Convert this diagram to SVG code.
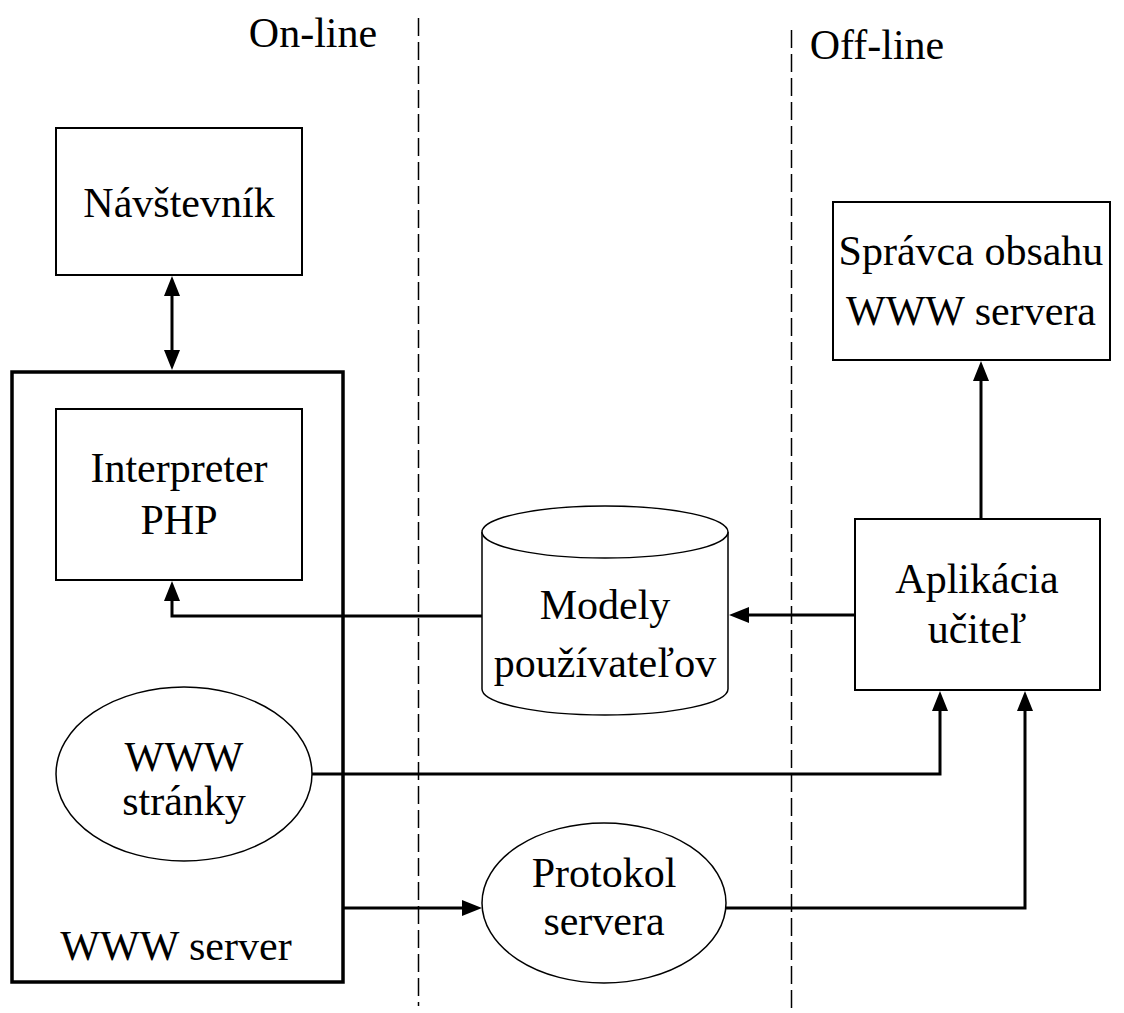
<svg xmlns="http://www.w3.org/2000/svg" width="1124" height="1013" viewBox="0 0 1124 1013" font-family="Liberation Serif, serif">
<style>
text{font-size:42px;fill:#000;text-anchor:middle}
.box{fill:#fff;stroke:#000;stroke-width:2}
.thick{fill:none;stroke:#000;stroke-width:3.5}
.thin{fill:#fff;stroke:#000;stroke-width:1.5}
.dash{fill:none;stroke:#000;stroke-width:1.5;stroke-dasharray:18 6}
.conn{fill:none;stroke:#000;stroke-width:3;marker-end:url(#ah)}
</style>
<defs>
<marker id="ah" markerUnits="userSpaceOnUse" markerWidth="20" markerHeight="16" refX="12" refY="8" orient="auto-start-reverse">
<path d="M0,0 L20,8 L0,16 z" fill="#000"/>
</marker>
</defs>
<rect width="1124" height="1013" fill="#fff"/>
<g id="dividers">
<line class="dash" x1="418.5" y1="18" x2="418.5" y2="1006"/>
<line class="dash" x1="791.5" y1="30" x2="791.5" y2="1013"/>
<text x="313" y="47">On-line</text>
<text x="877" y="59">Off-line</text>
</g>
<g id="www-server">
<rect class="thick" x="12" y="372" width="331" height="610"/>
<text x="176" y="960">WWW server</text>
</g>
<g id="navstevnik">
<rect class="box" x="56" y="128" width="246" height="147"/>
<text x="179" y="217">Návštevník</text>
</g>
<g id="interpreter">
<rect class="box" x="56" y="409" width="246" height="171"/>
<text x="179" y="482">Interpreter</text>
<text x="179" y="534">PHP</text>
</g>
<g id="www-stranky">
<ellipse class="thin" cx="184" cy="774" rx="128" ry="87"/>
<text x="184" y="771">WWW</text>
<text x="184" y="815">stránky</text>
</g>
<g id="modely">
<path class="thin" d="M482,532 V689 A123,26 0 0 0 728,689 V532"/>
<ellipse class="thin" cx="605" cy="532" rx="123" ry="26"/>
<text x="605" y="619">Modely</text>
<text x="605" y="677">používateľov</text>
</g>
<g id="protokol">
<ellipse class="thin" cx="604" cy="903" rx="122" ry="80"/>
<text x="604" y="887">Protokol</text>
<text x="604" y="935">servera</text>
</g>
<g id="aplikacia">
<rect class="box" x="855" y="519" width="245" height="171"/>
<text x="977" y="593">Aplikácia</text>
<text x="977" y="643">učiteľ</text>
</g>
<g id="spravca">
<rect class="box" x="833" y="202" width="277" height="158"/>
<text x="971" y="265">Správca obsahu</text>
<text x="971" y="325">WWW servera</text>
</g>
<g id="connectors">
<path class="conn" d="M172,284 V362" style="marker-start:url(#ah)"/>
<path class="conn" d="M482,616 H172 V589"/>
<path class="conn" d="M855,615 H737"/>
<path class="conn" d="M981,519 V369"/>
<path class="conn" d="M312,774 H940 V699"/>
<path class="conn" d="M726,908 H1025 V699"/>
<path class="conn" d="M343,908 H474"/>
</g>
</svg>
